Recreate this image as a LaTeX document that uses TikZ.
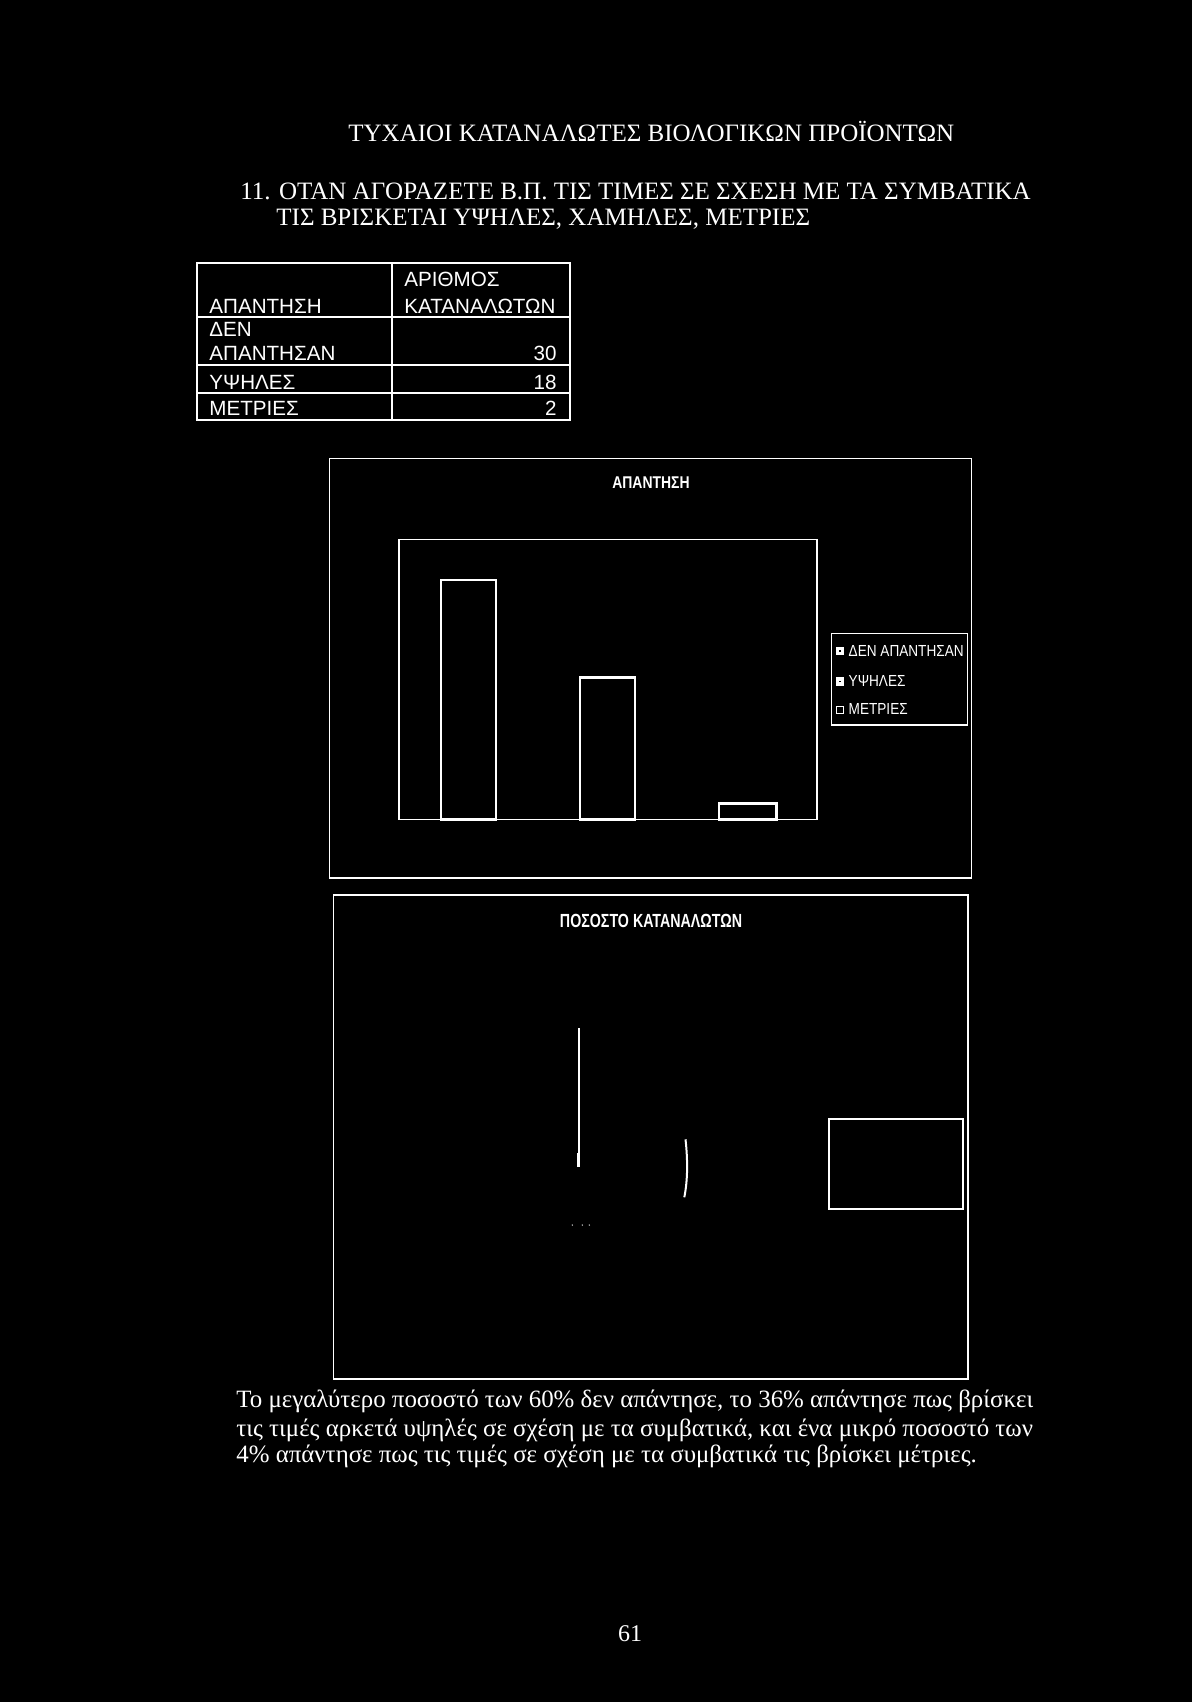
\documentclass[tikz,border=0pt]{standalone}
\usepackage{graphicx}
\usepackage{fontspec}
\setmainfont{Liberation Serif}
\newfontfamily\arialf{Liberation Sans}
\newcommand\cond[2]{\scalebox{#1}[1]{#2}}
\begin{document}
\begin{tikzpicture}[x=0.5pt,y=-0.5pt,
  txt/.style={text=white, inner sep=0pt},
  heading/.style={txt, anchor=base west, font=\fontsize{12.5}{14}\selectfont},
  para/.style={txt, anchor=base west, font=\fontsize{12.45}{14}\selectfont},
  tabtxt/.style={txt, anchor=base west, font=\arialf\fontsize{10.3}{12}\selectfont},
  tabnum/.style={txt, anchor=base east, font=\arialf\fontsize{10.3}{12}\selectfont},
  ctitle/.style={txt, anchor=base, font=\arialf\bfseries\fontsize{8.5}{10}\selectfont},
  legtxt/.style={txt, anchor=base west, font=\arialf\fontsize{8}{9}\selectfont},
  tline/.style={draw=white, line width=1pt},
  frame/.style={draw=white, line width=0.8pt},
  barbox/.style={draw=white, line width=1.2pt},
  legmark/.style={draw=white, line width=0.6pt}
]
\fill[black] (0,0) rectangle (1192,1702);
\useasboundingbox (0,0) rectangle (1192,1702);

% headings
\node[heading] (h1) at (348,141.5) {ΤΥΧΑΙΟΙ ΚΑΤΑΝΑΛΩΤΕΣ ΒΙΟΛΟΓΙΚΩΝ ΠΡΟΪΟΝΤΩΝ};
\node[heading] (h2) at (240,199.5) {11. ΟΤΑΝ ΑΓΟΡΑΖΕΤΕ Β.Π. ΤΙΣ ΤΙΜΕΣ ΣΕ ΣΧΕΣΗ ΜΕ ΤΑ ΣΥΜΒΑΤΙΚΑ};
\node[heading] (h3) at (276,225) {ΤΙΣ ΒΡΙΣΚΕΤΑΙ ΥΨΗΛΕΣ, ΧΑΜΗΛΕΣ, ΜΕΤΡΙΕΣ};

% table
\draw[tline] (197,263) rectangle (570,420);
\draw[tline] (392,263) -- (392,420);
\draw[tline] (197,317) -- (570,317);
\draw[tline] (197,365) -- (570,365);
\draw[tline] (197,393) -- (570,393);
\node[tabtxt] (t11) at (209,313.3) {ΑΠΑΝΤΗΣΗ};
\node[tabtxt] (t12a) at (404,286.7) {ΑΡΙΘΜΟΣ};
\node[tabtxt] (t12b) at (404,313.3) {ΚΑΤΑΝΑΛΩΤΩΝ};
\node[tabtxt] (t21a) at (209,336) {ΔΕΝ};
\node[tabtxt] (t21b) at (209,360) {ΑΠΑΝΤΗΣΑΝ};
\node[tabnum] (t22) at (557,360) {30};
\node[tabtxt] (t31) at (209,389) {ΥΨΗΛΕΣ};
\node[tabnum] (t32) at (557,389) {18};
\node[tabtxt] (t41) at (209,415.7) {ΜΕΤΡΙΕΣ};
\node[tabnum] (t42) at (557,415.7) {2};

% chart 1
\draw[frame] (329.5,458.5) rectangle (971.5,878);
\node[ctitle] (c1t) at (651,488) {\cond{0.82}{ΑΠΑΝΤΗΣΗ}};
\draw[frame] (399,539.5) rectangle (817,819.5);
\draw[barbox] (441,580) rectangle (496,819.5);
\draw[barbox] (580,677.3) rectangle (635,819.5);
\draw[barbox] (719,803.3) rectangle (776.6,819.5);
\draw[frame] (831.5,633.3) rectangle (967.5,725);
\filldraw[legmark, fill=white] (836.5,647.5) rectangle (843.5,654.5);
\fill[black] (839.2,650.2) rectangle (840.8,651.8);
\filldraw[legmark, fill=white] (836.5,678) rectangle (843.5,685);
\fill[black] (839.2,680.7) rectangle (840.8,682.3);
\draw[legmark] (836.5,706.5) rectangle (843.5,713.5);
\node[legtxt] (l1) at (848.3,656) {\cond{0.85}{ΔΕΝ ΑΠΑΝΤΗΣΑΝ}};
\node[legtxt] (l2) at (848.3,686) {\cond{0.85}{ΥΨΗΛΕΣ}};
\node[legtxt] (l3) at (848.3,714.5) {\cond{0.85}{ΜΕΤΡΙΕΣ}};

% chart 2
\draw[frame] (333.5,895) rectangle (968,1379);
\node[ctitle, font=\arialf\bfseries\fontsize{9.5}{11}\selectfont] (c2t) at (651,927.7) {\cond{0.75}{ΠΟΣΟΣΤΟ ΚΑΤΑΝΑΛΩΤΩΝ}};
\draw[draw=white, line width=1.1pt] (578.7,1028.3) -- (578.7,1166.7);
\draw[draw=white, line width=1.6pt] (578.2,1152.7) -- (578.2,1166.7);
\draw[draw=white, line width=1pt] (685.5,1139.3) .. controls (687.8,1160) and (687.8,1180) .. (684.3,1197.3);
\fill[white] (572.3,1225) circle (0.7);
\fill[white] (582.3,1225) circle (0.7);
\fill[white] (589.3,1225) circle (0.7);
\draw[frame] (829,1119) rectangle (963,1209);

% paragraph
\node[para] (p1) at (236,1407.5) {Το μεγαλύτερο ποσοστό των 60\% δεν απάντησε, το 36\% απάντησε πως βρίσκει};
\node[para] (p2) at (236,1436) {τις τιμές αρκετά υψηλές σε σχέση με τα συμβατικά, και ένα μικρό ποσοστό των};
\node[para] (p3) at (236,1462.5) {4\% απάντησε πως τις τιμές σε σχέση με τα συμβατικά τις βρίσκει μέτριες.};

% page number
\node[txt, anchor=base, font=\fontsize{12}{14}\selectfont] (pg) at (630,1641.7) {61};
\end{tikzpicture}
\end{document}
